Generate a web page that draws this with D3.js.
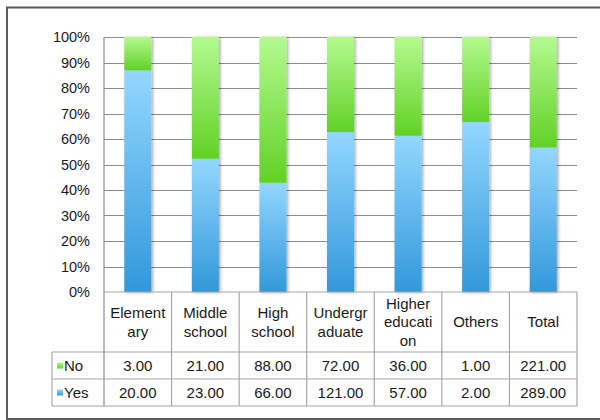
<!DOCTYPE html>
<html><head><meta charset="utf-8">
<script src="https://cdn.jsdelivr.net/npm/d3@7"></script>
<style>
html,body{margin:0;padding:0;background:#fff;}
svg{display:block;font-family:"Liberation Sans",Arial,sans-serif;}
</style></head>
<body><svg id="c" width="600" height="420"></svg>
<script>
const categories = ["Elementary","Middle school","High school","Undergraduate","Higher education","Others","Total"];
const categoryLines = [["Element","ary"],["Middle","school"],["High","school"],["Undergr","aduate"],["Higher","educati","on"],["Others"],["Total"]];
const seriesNames = ["No","Yes"];
const noValues = [3,21,88,72,36,1,221];
const yesValues = [20,23,66,121,57,2,289];
const tickValues = [0,0.1,0.2,0.3,0.4,0.5,0.6,0.7,0.8,0.9,1];

const svg = d3.select("#c");
const L = 104, R = 577, T = 37, B = 292;
const rowTop = 352, rowMid = 379, rowBot = 406, legendLeft = 52;

const defs = svg.append("defs");
function grad(id, c0, c1){
  const g = defs.append("linearGradient").attr("id", id).attr("x1",0).attr("y1",0).attr("x2",0).attr("y2",1);
  g.append("stop").attr("offset","0%").attr("stop-color",c0);
  g.append("stop").attr("offset","100%").attr("stop-color",c1);
}
grad("gNo","#b4fa90","#62d126");
grad("gYes","#93d7ff","#3298da");
const f = defs.append("filter").attr("id","sh").attr("x","-50%").attr("y","-10%").attr("width","200%").attr("height","120%");
f.append("feDropShadow").attr("dx",1.5).attr("dy",0.5).attr("stdDeviation",1.6).attr("flood-color","#000").attr("flood-opacity",0.35);

// outer frame
svg.append("rect").attr("x",7).attr("y",7.5).attr("width",620).attr("height",411.5)
  .attr("fill","none").attr("stroke","#595959").attr("stroke-width",2);

const x = d3.scaleBand().domain(categories).range([L,R]).paddingInner(0.6).paddingOuter(0.3);
const xc = d3.scaleBand().domain(categories).range([L,R]).padding(0);
const y = d3.scaleLinear().domain([0,1]).range([B,T]);

// gridlines
svg.append("g").selectAll("line").data(tickValues.filter(t=>t>0)).join("line")
  .attr("x1",L).attr("x2",R).attr("y1",d=>Math.round(y(d))+0.5).attr("y2",d=>Math.round(y(d))+0.5)
  .attr("stroke","#8c8c8c").attr("stroke-width",1.2);

// y-axis labels
const yAxis = d3.axisLeft(y).tickValues(tickValues).tickFormat(d3.format(".0%")).tickSize(0).tickPadding(14);
const ya = svg.append("g").attr("transform",`translate(${L},0)`).call(yAxis);
ya.select(".domain").remove();
ya.selectAll("text").attr("font-size","14.5px").attr("fill","#1a1a1a").attr("font-family","Liberation Sans, Arial, sans-serif");

// stacked percentage data
const rows = categories.map((c,i)=>{
  const tot = noValues[i]+yesValues[i];
  return {cat:c, Yes:yesValues[i]/tot, No:noValues[i]/tot};
});
const stack = d3.stack().keys(["Yes","No"])(rows);
const fills = {Yes:"url(#gYes)", No:"url(#gNo)"};
const bars = svg.append("g").attr("filter","url(#sh)");
stack.forEach(s=>{
  bars.append("g").selectAll("rect").data(s).join("rect")
    .attr("x",d=>x(d.data.cat)).attr("width",x.bandwidth())
    .attr("y",d=>y(d[1])).attr("height",d=>y(d[0])-y(d[1]))
    .attr("fill",fills[s.key]);
});

// table
const tg = svg.append("g").attr("stroke","#a6a6a6").attr("stroke-width",1.2).attr("fill","none");
// horizontal lines
tg.append("line").attr("x1",L).attr("x2",R).attr("y1",B).attr("y2",B);
[rowTop,rowMid,rowBot].forEach(yy=>tg.append("line").attr("x1",legendLeft).attr("x2",R).attr("y1",yy).attr("y2",yy));
// vertical lines
tg.append("line").attr("x1",L).attr("x2",L).attr("y1",T).attr("y2",rowBot).attr("stroke","#8c8c8c");
tg.append("line").attr("x1",legendLeft).attr("x2",legendLeft).attr("y1",rowTop).attr("y2",rowBot);
categories.forEach(c=>{
  const xx = xc(c)+xc.bandwidth();
  tg.append("line").attr("x1",xx).attr("x2",xx).attr("y1",B).attr("y2",rowBot);
});

const txt = svg.append("g").attr("fill","#1a1a1a").attr("font-size","15px").attr("text-anchor","middle");
// header labels
const headMid = (B+rowTop)/2, lh = 18.5;
categories.forEach((c,i)=>{
  const lines = categoryLines[i];
  const cx = xc(c)+xc.bandwidth()/2;
  lines.forEach((ln,j)=>{
    txt.append("text").attr("x",cx).attr("y",headMid+(j-(lines.length-1)/2)*lh).attr("dy","0.35em").text(ln);
  });
});
// value rows
const fmt = d3.format(".2f");
const rowsData = [{name:"No", vals:noValues, cy:(rowTop+rowMid)/2, color:"url(#gNo)"},
                  {name:"Yes", vals:yesValues, cy:(rowMid+rowBot)/2, color:"url(#gYes)"}];
rowsData.forEach(r=>{
  r.vals.forEach((v,i)=>{
    txt.append("text").attr("x",xc(categories[i])+xc.bandwidth()/2).attr("y",r.cy).attr("dy","0.35em").text(fmt(v));
  });
  svg.append("rect").attr("x",57).attr("y",r.cy-3).attr("width",6).attr("height",6).attr("fill",r.color);
  txt.append("text").attr("x",64).attr("y",r.cy).attr("dy","0.35em").attr("text-anchor","start").text(r.name);
});
</script></body></html>
